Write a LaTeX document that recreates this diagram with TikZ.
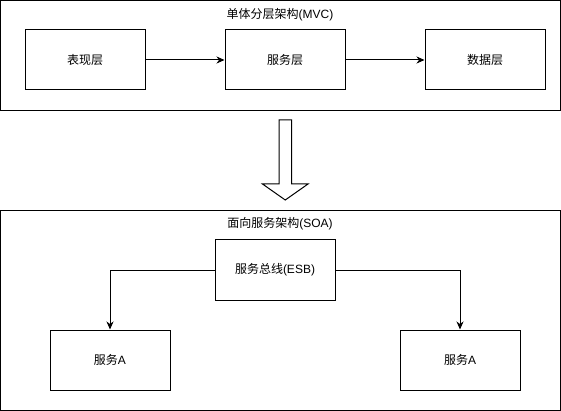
\documentclass[tikz,border=0pt]{standalone}
\usepackage{fontspec}
\setmainfont{Liberation Sans}
\newfontfamily\cjk{Noto Sans CJK SC}
\usetikzlibrary{arrows.meta}
\begin{document}
\begin{tikzpicture}[x=1pt,y=-1pt,line width=1pt,
  txt/.style={font=\fontsize{12}{14}\selectfont},
  box/.style={draw,txt,minimum width=120pt,minimum height=60pt,inner sep=0pt},
  frame/.style={draw,inner sep=0pt},
  title/.style={txt,inner sep=0pt},
  conn/.style={-{Stealth[length=8pt,width=7pt,inset=2.5pt]}},
  bigarrow/.style={draw,line width=1pt,line join=miter}]
\useasboundingbox (0,0) rectangle (561,411);
% frames
\node[frame,minimum width=559.5pt,minimum height=110pt] (topframe) at (280.25,55.5) {};
\node[frame,minimum width=559.5pt,minimum height=200pt] (botframe) at (280.25,310.4) {};
\node[title] (toptitle) at (280,15) {{\cjk 单体分层架构}(MVC)};
\node[title] (bottitle) at (280,224) {{\cjk 面向服务架构}(SOA)};
% top boxes
\node[box] (pres) at (85,60) {{\cjk 表现层}};
\node[box] (serv) at (285,60) {{\cjk 服务层}};
\node[box] (data) at (485,60) {{\cjk 数据层}};
\draw[conn] (pres) -- (serv);
\draw[conn] (serv) -- (data);
% big arrow
\draw[bigarrow] (279,120) -- (291.5,120) -- (291.5,184) -- (308,184) -- (285.25,200) -- (262.5,184) -- (279,184) -- cycle;
% bottom boxes
\node[box] (esb) at (275,270) {{\cjk 服务总线}(ESB)};
\node[box] (sa) at (110,360) {{\cjk 服务}A};
\node[box] (sb) at (460,360) {{\cjk 服务}A};
\draw[conn] (esb.west) -| (sa.north);
\draw[conn] (esb.east) -| (sb.north);
\end{tikzpicture}
\end{document}
